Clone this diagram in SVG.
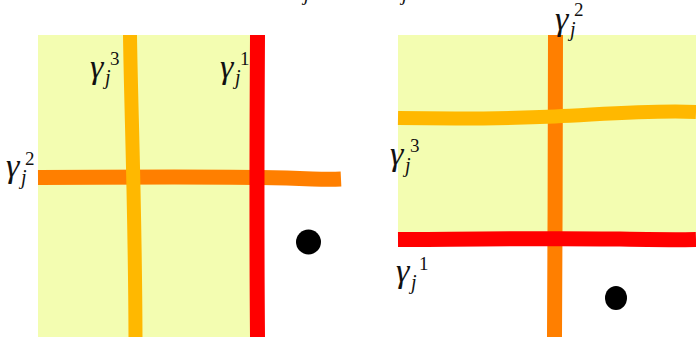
<svg xmlns="http://www.w3.org/2000/svg" width="696" height="343" viewBox="0 0 696 343">
<style>
.bg{fill:#f3fdb1}
.c{fill:none;stroke-linecap:butt}
.red{stroke:#ff0000;stroke-width:15}
.org{stroke:#ff7f00;stroke-width:15}
.yel{stroke:#ffb800;stroke-width:14}
.g{font-family:"Liberation Serif","DejaVu Serif",serif;font-style:italic;font-size:34px;fill:#111}
.s{font-family:"Liberation Serif","DejaVu Serif",serif;font-size:19px;fill:#111}
.si{font-family:"Liberation Serif","DejaVu Serif",serif;font-style:italic;font-size:20px;fill:#111}
</style>
<rect width="696" height="343" fill="#ffffff"/>
<g id="cutoff-labels">
<text class="si" x="304" y="0">j</text>
<text class="si" x="402" y="0">j</text>
</g>
<g id="left-panel">
<rect class="bg" x="38" y="35" width="216" height="302"/>
<g id="left-curves">
<path class="c org" d="M38,177.5 C120,177 200,176.5 260,177.5 S320,180 341,179"/>
<path class="c yel" d="M130,35 C131,110 135,200 135.5,337"/>
<path class="c red" d="M257.5,35 C257,120 256.5,220 257.5,337"/>
</g>
<circle id="left-dot" cx="308.5" cy="242" r="12.5" fill="#000"/>
<g id="left-labels">
<text class="g" x="90" y="78">γ</text><text class="si" x="105" y="84">j</text><text class="s" x="110" y="65">3</text>
<text class="g" x="220" y="78">γ</text><text class="si" x="235" y="84">j</text><text class="s" x="240" y="65">1</text>
<text class="g" x="6" y="177">γ</text><text class="si" x="21" y="184">j</text><text class="s" x="25" y="165">2</text>
</g>
</g>
<g id="right-panel">
<rect class="bg" x="398" y="35" width="298" height="205"/>
<g id="right-curves">
<path class="c org" d="M555.5,35 C555.5,120 555,240 554.5,337"/>
<path class="c yel" d="M398,118 C460,119 510,118.5 555,116.5 S650,110 696,112"/>
<path class="c red" d="M398,239.5 C480,239 560,238 620,239 S680,240 696,239.5"/>
</g>
<ellipse id="right-dot" cx="616" cy="298" rx="11" ry="12" fill="#000"/>
<g id="right-labels">
<text class="g" x="555" y="30">γ</text><text class="si" x="570" y="36">j</text><text class="s" x="574" y="16">2</text>
<text class="g" x="390" y="165">γ</text><text class="si" x="405" y="172">j</text><text class="s" x="410" y="152">3</text>
<text class="g" x="396" y="282">γ</text><text class="si" x="411" y="289">j</text><text class="s" x="419" y="270">1</text>
</g>
</g>
</svg>
